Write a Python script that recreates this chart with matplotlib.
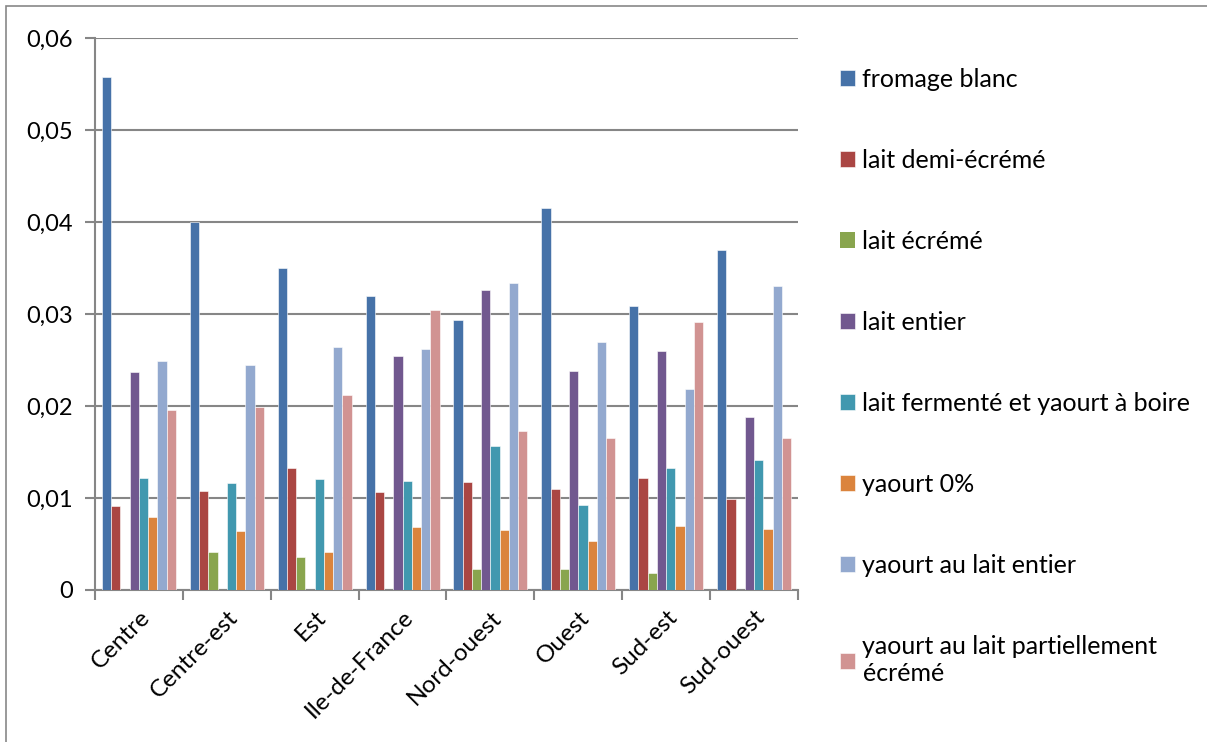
import numpy as np
import matplotlib.pyplot as plt
from matplotlib.patches import Rectangle

regions = ["Centre", "Centre-est", "Est", "Ile-de-France", "Nord-ouest", "Ouest", "Sud-est", "Sud-ouest"]

fromage_blanc = [0.0558, 0.0400, 0.0350, 0.0320, 0.0294, 0.0415, 0.0309, 0.0370]
lait_demi_ecreme = [0.0091, 0.0108, 0.0133, 0.0106, 0.0117, 0.0110, 0.0122, 0.0099]
lait_ecreme = [0.0, 0.0041, 0.0036, 0.0, 0.0023, 0.0023, 0.0018, 0.0]
lait_entier = [0.0237, 0.0, 0.0, 0.0254, 0.0326, 0.0238, 0.0260, 0.0188]
lait_fermente = [0.0122, 0.0116, 0.0121, 0.0118, 0.0156, 0.0092, 0.0133, 0.0141]
yaourt_0 = [0.0079, 0.0064, 0.0041, 0.0068, 0.0065, 0.0053, 0.0070, 0.0066]
yaourt_entier = [0.0249, 0.0245, 0.0264, 0.0262, 0.0334, 0.0270, 0.0219, 0.0330]
yaourt_partiel = [0.0196, 0.0199, 0.0212, 0.0304, 0.0173, 0.0165, 0.0291, 0.0165]

series = [
    ("fromage blanc", fromage_blanc, "#4672A8"),
    ("lait demi-écrémé", lait_demi_ecreme, "#AA4643"),
    ("lait écrémé", lait_ecreme, "#89A54E"),
    ("lait entier", lait_entier, "#71588F"),
    ("lait fermenté et yaourt à boire", lait_fermente, "#4198AF"),
    ("yaourt 0%", yaourt_0, "#DB843D"),
    ("yaourt au lait entier", yaourt_entier, "#93A9CF"),
    ("yaourt au lait partiellement\nécrémé", yaourt_partiel, "#D19392"),
]

plt.rcParams['font.family'] = ['Lato', 'DejaVu Sans']

fig = plt.figure(figsize=(12.07, 7.42), dpi=100)
ax = fig.add_axes([95 / 1207, 1 - 590 / 742, (798 - 95) / 1207, (590 - 38) / 742])

# outer frame of the chart
fig.patches.append(Rectangle((6 / 1207, -0.1), 1.2, (736 / 742) + 0.1, transform=fig.transFigure,
                             fill=False, edgecolor="#878787", linewidth=1.2))

n = len(series)
w = 1 / 9.5
x = np.arange(len(regions))
handles = []
for k, (name, vals, col) in enumerate(series):
    offs = (k - (n - 1) / 2) * w
    lw = [0.4 if v > 0 else 0 for v in vals]
    b = ax.bar(x + offs, vals, width=w, color=col, edgecolor="white", linewidth=lw, label=name, zorder=3)
    handles.append(b)

ax.set_xlim(-0.5, len(regions) - 0.5)
ax.set_ylim(0, 0.06)
ax.set_yticks(np.arange(0, 0.061, 0.01))
ax.set_yticklabels(["0"] + [f"0,0{i}" for i in range(1, 7)], fontsize=17)
ax.yaxis.grid(True, color="#868686", linewidth=1.5, zorder=0)
ax.set_axisbelow(True)

ax.set_xticks(np.arange(-0.5, len(regions), 1))
ax.set_xticklabels([])
ax.set_xticks(x, minor=True)
ax.set_xticklabels(regions, minor=True, rotation=45, ha="right", va="top", fontsize=17.5,
                   rotation_mode="anchor")
ax.tick_params(axis="x", which="minor", length=0, pad=12)
ax.tick_params(axis="x", which="major", length=7, color="#868686", width=1.5, direction="out")
ax.tick_params(axis="y", length=7, color="#868686", width=1.5, direction="out", pad=9)

for s in ["top", "right"]:
    ax.spines[s].set_visible(False)
for s in ["left", "bottom"]:
    ax.spines[s].set_color("#868686")
    ax.spines[s].set_linewidth(1.5)

fig.legend(handles=handles, loc="upper left", bbox_to_anchor=(840 / 1207, 1 - 68 / 742),
           frameon=False, fontsize=18, handlelength=0.6, handleheight=0.6, handletextpad=0.3,
           labelspacing=2.32, borderpad=0, borderaxespad=0)

fig.savefig("out.png", dpi=100, facecolor="white")
